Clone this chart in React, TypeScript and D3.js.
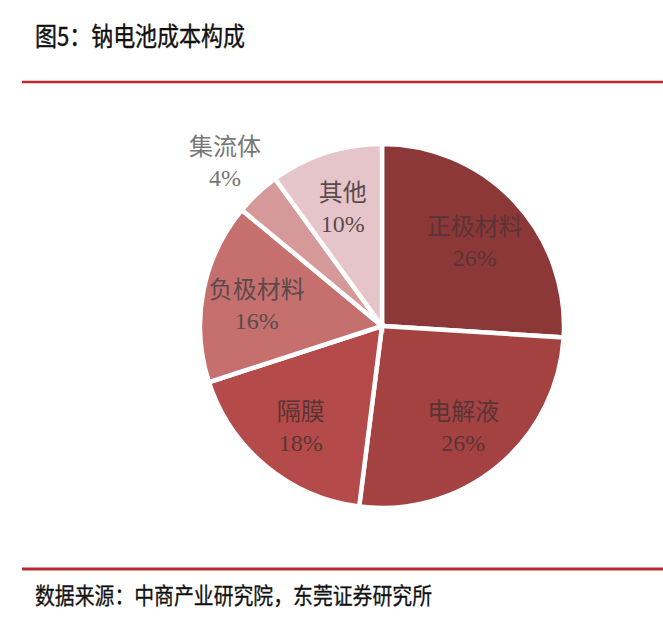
import * as d3 from "d3"

const categories = ["正极材料", "电解液", "隔膜", "负极材料", "集流体", "其他"]
const shares = [26, 26, 18, 16, 4, 10]
const colors = ["#8c3838", "#a44242", "#b54a4a", "#c56f6f", "#d69999", "#e5c5c9"]
// labels drawn outside the slice
const outside = ["集流体"]

const W = 663
const H = 629
const cx = 382
const cy = 326
const R = 182

const App = () => {
  const data = categories.map((name, i) => ({ name, value: shares[i], color: colors[i] }))
  const pie = d3
    .pie<{ name: string; value: number; color: string }>()
    .sort(null)
    .value((d) => d.value)
  const arcs = pie(data)
  const arc = d3.arc<d3.PieArcDatum<any>>().innerRadius(0).outerRadius(R)
  const labelArc = d3.arc<d3.PieArcDatum<any>>().innerRadius(R * 0.7).outerRadius(R * 0.7)
  const outerArc = d3.arc<d3.PieArcDatum<any>>().innerRadius(R * 1.26).outerRadius(R * 1.26)

  const labelFont = "'Liberation Serif', 'Noto Sans CJK SC', serif"

  return (
    <svg
      width={W}
      height={H}
      style={{ position: "absolute", left: 0, top: 0, background: "#fff" }}
    >
      <text
        x={35}
        y={46}
        fontFamily="'Noto Sans CJK SC', sans-serif"
        fontSize={26}
        fill="#111"
        stroke="#111"
        strokeWidth={0.4}
        textLength={210}
        lengthAdjust="spacingAndGlyphs"
      >
        图5：钠电池成本构成
      </text>
      <line x1={22} x2={W} y1={82} y2={82} stroke="#c0282b" strokeWidth={2.5} />

      <g transform={`translate(${cx},${cy})`}>
        {arcs.map((a) => (
          <path key={a.data.name} d={arc(a) as string} fill={a.data.color} stroke="#fff" strokeWidth={4.5} />
        ))}
        {arcs.map((a) => {
          const isOut = outside.includes(a.data.name)
          const [x, y] = (isOut ? outerArc : labelArc).centroid(a)
          const fill = isOut ? "#777" : a.index < 3 ? "#5a3434" : "#5c4a4a"
          return (
            <text
              key={a.data.name}
              x={x}
              y={y}
              textAnchor="middle"
              fontFamily={labelFont}
              fontSize={24}
              fill={fill}
            >
              <tspan x={x} dy={-4}>
                {a.data.name}
              </tspan>
              <tspan x={x} dy={31}>
                {a.data.value}%
              </tspan>
            </text>
          )
        })}
      </g>

      <line x1={22} x2={W} y1={569} y2={569} stroke="#b52a2c" strokeWidth={3} />
      <text
        x={35}
        y={604}
        fontFamily="'Noto Sans CJK SC', sans-serif"
        fontSize={23}
        fill="#111"
        stroke="#111"
        strokeWidth={0.3}
        textLength={397}
        lengthAdjust="spacingAndGlyphs"
      >
        数据来源：中商产业研究院，东莞证券研究所
      </text>
    </svg>
  )
}

export default App
